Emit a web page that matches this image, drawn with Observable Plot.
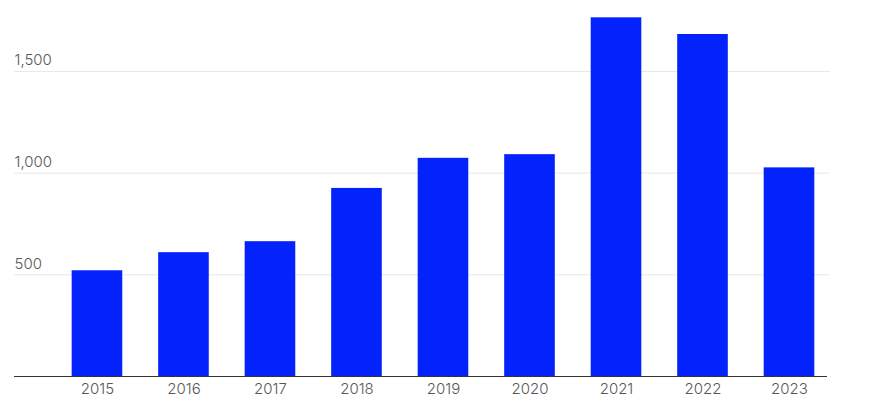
<!DOCTYPE html>
<html>
<head>
<meta charset="utf-8">
<script src="https://cdn.jsdelivr.net/npm/d3@7"></script>
<script src="https://cdn.jsdelivr.net/npm/@observablehq/plot@0.6"></script>
<style>
  html, body { margin: 0; padding: 0; background: #ffffff; }
  #chart { width: 870px; height: 412px; }
</style>
</head>
<body>
<div id="chart"></div>
<script>
const years = ["2015", "2016", "2017", "2018", "2019", "2020", "2021", "2022", "2023"];
const values = [520, 609, 663, 925, 1073, 1091, 1764, 1682, 1026];
const yTicks = [500, 1000, 1500];

const data = years.map((y, i) => ({year: y, value: values[i]}));
const fmt = d3.format(",");

const chart = Plot.plot({
  width: 870,
  height: 412,
  marginLeft: 14,
  marginRight: 40,
  marginTop: 10,
  marginBottom: 36,
  style: {fontFamily: "Inter, 'Liberation Sans', sans-serif", fontSize: "14px", color: "#555", background: "#fff"},
  x: {domain: years, paddingInner: 0.415, paddingOuter: 0.424, align: 0.786, round: false, label: null},
  y: {domain: [0, 1800], label: null},
  marks: [
    Plot.ruleY(yTicks, {stroke: "#e8e8e8", strokeWidth: 1}),
    Plot.text(yTicks, {y: d => d, text: d => fmt(d), frameAnchor: "left", textAnchor: "start", dy: -11, fill: "#575757", fontSize: 15, fontWeight: 350}),
    Plot.barY(data, {x: "year", y: "value", fill: "#0322fc"}),
    Plot.ruleY([0], {stroke: "#333", strokeWidth: 1, insetRight: 3}),
    Plot.axisX({tickSize: 0, tickPadding: 7, fill: "#575757", fontSize: 15, fontWeight: 350, label: null}),
    Plot.axisY({ticks: [], label: null})
  ]
});
document.getElementById("chart").appendChild(chart);
</script>
</body>
</html>
